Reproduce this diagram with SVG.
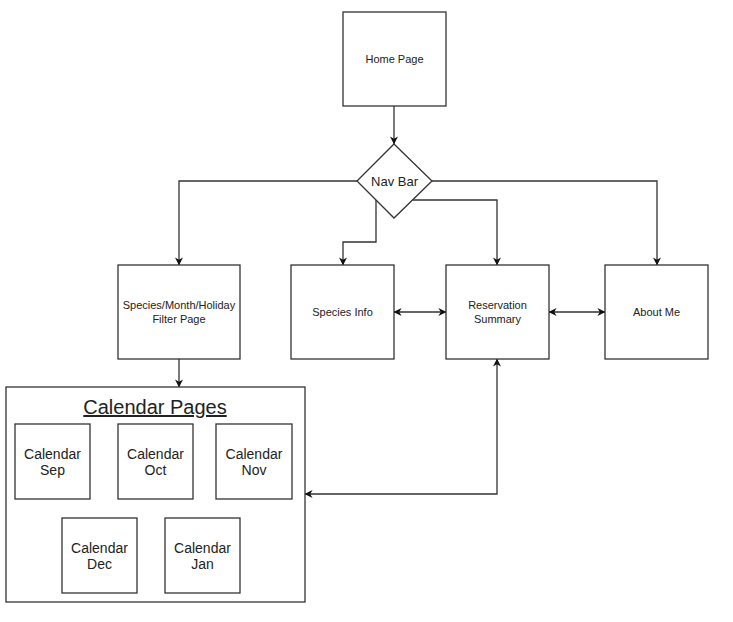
<svg xmlns="http://www.w3.org/2000/svg" width="733" height="622" viewBox="0 0 733 622">
<style>
.box{fill:#fff;stroke:#333;stroke-width:1.3}
.ln{fill:none;stroke:#333;stroke-width:1.3}
.t{font-family:"Liberation Sans",Arial,sans-serif;font-size:11px;fill:#222;text-anchor:middle}
.tc{font-family:"Liberation Sans",Arial,sans-serif;font-size:14px;fill:#222;text-anchor:middle}
</style>
<defs>
<marker id="ah" viewBox="0 0 10 10" refX="9.5" refY="5" markerWidth="8" markerHeight="8" markerUnits="userSpaceOnUse" orient="auto-start-reverse">
<path d="M0,0 L10,5 L0,10 L3,5 Z" fill="#111"/>
</marker>
</defs>
<rect width="733" height="622" fill="#fff"/>
<g id="connectors">
<path class="ln" d="M394,106 V144" marker-end="url(#ah)"/>
<path class="ln" d="M357,181 H179 V265" marker-end="url(#ah)"/>
<path class="ln" d="M432,181 H657 V265" marker-end="url(#ah)"/>
<path class="ln" d="M376,200 V242 H343 V265" marker-end="url(#ah)"/>
<path class="ln" d="M413,200 H497 V265" marker-end="url(#ah)"/>
<path class="ln" d="M394,312 H446" marker-start="url(#ah)" marker-end="url(#ah)"/>
<path class="ln" d="M549,312 H605" marker-start="url(#ah)" marker-end="url(#ah)"/>
<path class="ln" d="M179,359 V387" marker-end="url(#ah)"/>
<path class="ln" d="M497,359 V494 H305" marker-start="url(#ah)" marker-end="url(#ah)"/>
</g>
<g id="home">
<rect class="box" x="343" y="12" width="103" height="94"/>
<text class="t" x="394.5" y="63">Home Page</text>
</g>
<g id="navbar">
<polygon class="box" points="394,144 432,181 394,218 357,181"/>
<text class="t" x="394.5" y="186" style="font-size:13px">Nav Bar</text>
</g>
<g id="filter">
<rect class="box" x="118" y="265" width="122" height="94"/>
<text class="t" x="179" y="309">Species/Month/Holiday</text>
<text class="t" x="179" y="323">Filter Page</text>
</g>
<g id="species">
<rect class="box" x="291" y="265" width="103" height="94"/>
<text class="t" x="342.5" y="316">Species Info</text>
</g>
<g id="reservation">
<rect class="box" x="446" y="265" width="103" height="94"/>
<text class="t" x="497.5" y="309">Reservation</text>
<text class="t" x="497.5" y="323">Summary</text>
</g>
<g id="about">
<rect class="box" x="605" y="265" width="103" height="94"/>
<text class="t" x="656.5" y="316">About Me</text>
</g>
<g id="calendar-pages">
<rect class="box" x="6" y="387" width="299" height="215"/>
<text class="tc" x="155" y="414" style="font-size:20px;text-decoration:underline">Calendar Pages</text>
</g>
<g id="cal-sep">
<rect class="box" x="15" y="424" width="75" height="75"/>
<text class="tc" x="52.5" y="459">Calendar</text>
<text class="tc" x="52.5" y="475">Sep</text>
</g>
<g id="cal-oct">
<rect class="box" x="118" y="424" width="75" height="75"/>
<text class="tc" x="155.5" y="459">Calendar</text>
<text class="tc" x="155.5" y="475">Oct</text>
</g>
<g id="cal-nov">
<rect class="box" x="216" y="424" width="76" height="75"/>
<text class="tc" x="254" y="459">Calendar</text>
<text class="tc" x="254" y="475">Nov</text>
</g>
<g id="cal-dec">
<rect class="box" x="62" y="518" width="75" height="75"/>
<text class="tc" x="99.5" y="553">Calendar</text>
<text class="tc" x="99.5" y="569">Dec</text>
</g>
<g id="cal-jan">
<rect class="box" x="165" y="518" width="75" height="75"/>
<text class="tc" x="202.5" y="553">Calendar</text>
<text class="tc" x="202.5" y="569">Jan</text>
</g>
</svg>
